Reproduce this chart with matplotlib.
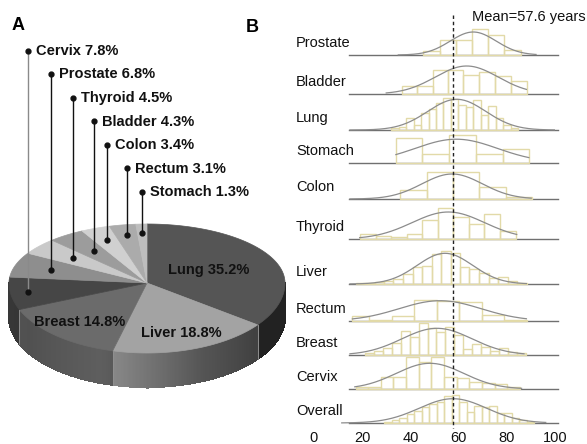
import numpy as np
import matplotlib
matplotlib.use("Agg")
import matplotlib.pyplot as plt
from matplotlib.collections import PolyCollection

plt.rcParams['font.family'] = ['Liberation Sans', 'DejaVu Sans']

# ---- panel A: share of cases by site ----
sites = ["Lung", "Liver", "Breast", "Cervix", "Prostate", "Thyroid",
         "Bladder", "Colon", "Rectum", "Stomach"]
shares = [35.2, 18.8, 14.8, 7.8, 6.8, 4.5, 4.3, 3.4, 3.1, 1.3]

# ---- panel B: age distribution per site ----
rows = ["Prostate", "Bladder", "Lung", "Stomach", "Colon", "Thyroid",
        "Liver", "Rectum", "Breast", "Cervix", "Overall"]

prostate_edges = [45.4, 52.1, 58.8, 65.5, 72.2, 78.9, 85.6]
prostate_freq = [4, 15, 15, 26, 20, 5.5]

bladder_edges = [36.4, 42.6, 49.2, 55.7, 61.9, 68.5, 75.0, 81.6, 88.1]
bladder_freq = [8, 8, 24, 24, 19, 22, 18, 13]

lung_edges = [32.0, 35.1, 38.2, 41.3, 44.4, 47.5, 50.6, 53.7, 56.8, 59.9,
              63.0, 66.1, 69.2, 72.3, 75.4, 78.5, 81.6, 84.7]
lung_freq = [2.5, 3, 12, 5.5, 17.5, 21, 27.5, 32.5, 31, 25.5, 23, 30, 15,
             24, 12, 5, 2]

stomach_edges = [33.9, 45.0, 56.0, 67.0, 78.2, 89.2]
stomach_freq = [25, 8.5, 28, 8.5, 14]

colon_edges = [35.9, 46.7, 57.5, 68.4, 79.4, 90.4]
colon_freq = [9, 27, 27, 12.5, 2.5]

thyroid_edges = [19.1, 25.6, 32.0, 38.5, 44.9, 51.6, 57.8, 64.3, 70.6, 77.1, 83.6]
thyroid_freq = [5.3, 3, 2, 5.3, 19.3, 31, 22, 15.3, 25.3, 8]

liver_edges = [17.6, 21.5, 25.4, 29.2, 32.9, 36.8, 41.0, 44.9, 48.8, 52.7,
               56.7, 60.5, 64.4, 68.4, 72.4, 76.4, 80.3, 84.2, 88.1]
liver_freq = [0.7, 1.0, 1.7, 3.3, 5, 10, 17.3, 18.5, 30.5, 33, 31, 17, 15.5,
              11.5, 6.5, 7, 3.5, 1.3]

rectum_edges = [15.7, 23.0, 32.3, 41.6, 50.9, 60.1, 69.5, 78.7, 88.1]
rectum_freq = [5.5, 1, 5, 21, 20.5, 19.5, 6.5, 1.5]

breast_edges = [21.2, 24.9, 28.6, 32.3, 36.0, 39.7, 43.4, 47.1, 50.8, 54.5,
                58.2, 61.9, 65.6, 69.3, 73.0, 76.7, 80.4, 84.1, 87.8]
breast_freq = [2.3, 4.3, 6.7, 11.7, 24, 18.3, 31.7, 27.3, 23.3, 28.3, 20,
               5.7, 11, 7.7, 4.3, 6.7, 3.3, 1.7]

cervix_edges = [17.5, 22.6, 27.7, 32.9, 38.1, 43.4, 48.6, 53.9, 59.1, 64.4,
                69.6, 74.9, 80.1, 85.4]
cervix_freq = [1.7, 2.3, 12.5, 12.5, 32, 27, 32, 12.5, 11, 7, 6.5, 5.5, 2.5]

overall_edges = [29.2, 32.3, 35.4, 38.5, 41.6, 44.7, 47.8, 50.9, 54.0, 57.1,
                 60.2, 63.3, 66.4, 69.5, 72.6, 75.7, 78.8, 81.9, 85.0, 88.1, 91.2]
overall_freq = [1.5, 3, 5.5, 9, 12, 16, 19.5, 21, 27, 28.5, 21, 11.5, 17.5,
                16.5, 17, 10.5, 10, 5.5, 3, 1.2]

# normal fit per row: mean, sd, peak height, drawn range
fit_mean = [66, 63.3, 59.2, 59, 57.3, 55.7, 54.3, 52.3, 51, 48.1, 57.6]
fit_sd = [9.5, 13, 12, 17, 12.5, 15, 11.5, 17, 14.5, 14, 14]
fit_peak = [23, 28, 30.7, 23.3, 25, 27, 30.7, 20.3, 26.7, 25.7, 24.3]
fit_lo = [35, 30, 15, 34, 15, 19, 15, 16, 15, 17, 11.6]
fit_hi = [92, 88, 100, 89, 90, 84, 88, 88, 87, 86, 96]

mean_age = 57.6

hist_edges = [prostate_edges, bladder_edges, lung_edges, stomach_edges,
              colon_edges, thyroid_edges, liver_edges, rectum_edges,
              breast_edges, cervix_edges, overall_edges]
hist_freq = [prostate_freq, bladder_freq, lung_freq, stomach_freq,
             colon_freq, thyroid_freq, liver_freq, rectum_freq,
             breast_freq, cervix_freq, overall_freq]

fig = plt.figure(figsize=(5.87, 4.44), dpi=100)

# ---------------- A: 3D-looking pie ----------------
ax = fig.add_axes([0, 0, 1, 1])
ax.set_xlim(0, 587)
ax.set_ylim(444, 0)
ax.axis('off')

top_colors = ["#555555", "#a3a3a3", "#6b6b6b", "#464646", "#8e8e8e",
              "#c9c9c9", "#9c9c9c", "#d0d0d0", "#ababab", "#bdbdbd"]
cx, cy = 147, 283
rx, ry_back, ry_front = 138, 59, 70
depth = 34


def rim(theta):
    t = np.radians(theta)
    ry = np.where(np.sin(t) > 0, ry_back, ry_front)
    return cx + rx * np.cos(t), cy - ry * np.sin(t)


def shade(hexcol, f):
    g = int(hexcol[1:3], 16) / 255.0
    v = min(1.0, g * f)
    return (v, v, v)


sh = np.array(shares)
ends = 90 - 3.6 * np.cumsum(sh)
starts = ends + 3.6 * sh

# side wall (front half only), shaded strip by strip
light_t = [-180, -150, -110, -67, -40, 0]
light_v = [0.8, 0.75, 0.88, 0.52, 0.4, 0.4]
quads, qcols = [], []
for s, e, col in zip(starts, ends, top_colors):
    hi, lo = min(s, 0), max(e, -180)
    if hi <= lo:
        continue
    th = np.linspace(hi, lo, max(3, int((hi - lo) * 2)))
    xs, ys = rim(th)
    for k in range(len(th) - 1):
        quads.append([(xs[k], ys[k]), (xs[k + 1], ys[k + 1]),
                      (xs[k + 1], ys[k + 1] + depth), (xs[k], ys[k] + depth)])
        f = np.interp(0.5 * (th[k] + th[k + 1]), light_t, light_v)
        qcols.append(shade(col, f))
ax.add_collection(PolyCollection(quads, facecolors=qcols, edgecolors=qcols,
                                 linewidths=0.8, antialiaseds=False))
for b in ends[:3]:
    bx, by = rim(b)
    ax.plot([bx, bx], [by, by + depth], color="#9a9a9a", lw=0.6)

# top face
for s, e, col in zip(starts, ends, top_colors):
    th = np.linspace(s, e, max(4, int((s - e) * 2)))
    xs, ys = rim(th)
    pts = np.column_stack([np.r_[cx, xs], np.r_[cy, ys]])
    ax.add_patch(plt.Polygon(pts, closed=True, fc=col, ec=col, lw=0.5))

# labels inside the big slices
inner_frac = [0.5, 0.75, 0.74]
for i, f in enumerate(inner_frac):
    mx, my = rim(0.5 * (starts[i] + ends[i]))
    ax.text(cx + f * (mx - cx), cy + f * (my - cy),
            f"{sites[i]} {shares[i]}%", ha='center', va='center',
            fontsize=10.5, fontweight='bold', color='#111111')

# leader labels for the small slices
lead_frac = [0.87, 0.73, 0.68, 0.66, 0.78, 0.82, 0.85]
for k, i in enumerate(range(3, len(sites))):
    mx, my = rim(0.5 * (starts[i] + ends[i]))
    px = cx + lead_frac[k] * (mx - cx)
    py = cy + lead_frac[k] * (my - cy)
    ty = 51 + 23.5 * k
    lc = "#8a8a8a" if k == 0 else "#111111"
    ax.plot([px, px], [ty, py], color=lc, lw=1.0)
    ax.plot([px, px], [ty, py], 'o', color='#111111', ms=3.5)
    ax.text(px + 8, ty, f"{sites[i]} {shares[i]}%", ha='left', va='center',
            fontsize=10.5, fontweight='bold', color='#111111')

ax.text(18, 25, "A", ha='center', va='center', fontsize=13, fontweight='bold')
ax.text(252, 27, "B", ha='center', va='center', fontsize=13, fontweight='bold')

# ---------------- B: age histograms ----------------
axb = fig.add_axes([313.7 / 587, 16 / 444, 241.7 / 587, 428 / 444])
axb.set_xlim(0, 100)
axb.set_ylim(428, 0)
axb.patch.set_alpha(0)
for sp in axb.spines.values():
    sp.set_visible(False)

row_base = [55, 94, 130, 162.5, 199, 239, 284, 321, 355, 389, 423]

for r, name in enumerate(rows):
    base = row_base[r]
    edges = np.array(hist_edges[r])
    freq = np.array(hist_freq[r])
    axb.plot([14.5, 101], [base, base], color='#707070', lw=1.0,
             clip_on=False, zorder=1)
    axb.bar(edges[:-1], -freq, width=np.diff(edges), bottom=base,
            align='edge', fill=False, edgecolor='#e2daa8', lw=1.0, zorder=2)
    xs = np.linspace(fit_lo[r], fit_hi[r], 200)
    ys = base - fit_peak[r] * np.exp(-0.5 * ((xs - fit_mean[r]) / fit_sd[r]) ** 2)
    axb.plot(xs, ys, color='#8c8c8c', lw=0.9, zorder=3)
    axb.text(-7.3, base - 12, name, ha='left', va='center', fontsize=10.5,
             color='#111111', clip_on=False)

axb.plot([mean_age, mean_age], [15, 428], color='#222222', lw=1.0,
         dashes=(2.5, 2), zorder=4, clip_on=False)
axb.text(65.5, 17, f"Mean={mean_age} years", ha='left', va='center',
         fontsize=10.5, color='#111111', clip_on=False)

axb.set_xticks([0, 20, 40, 60, 80, 100])
axb.set_yticks([])
axb.tick_params(axis='x', length=0, labelsize=10.5, pad=2.5,
                labelcolor='#111111')

fig.savefig("out.png", dpi=100)
